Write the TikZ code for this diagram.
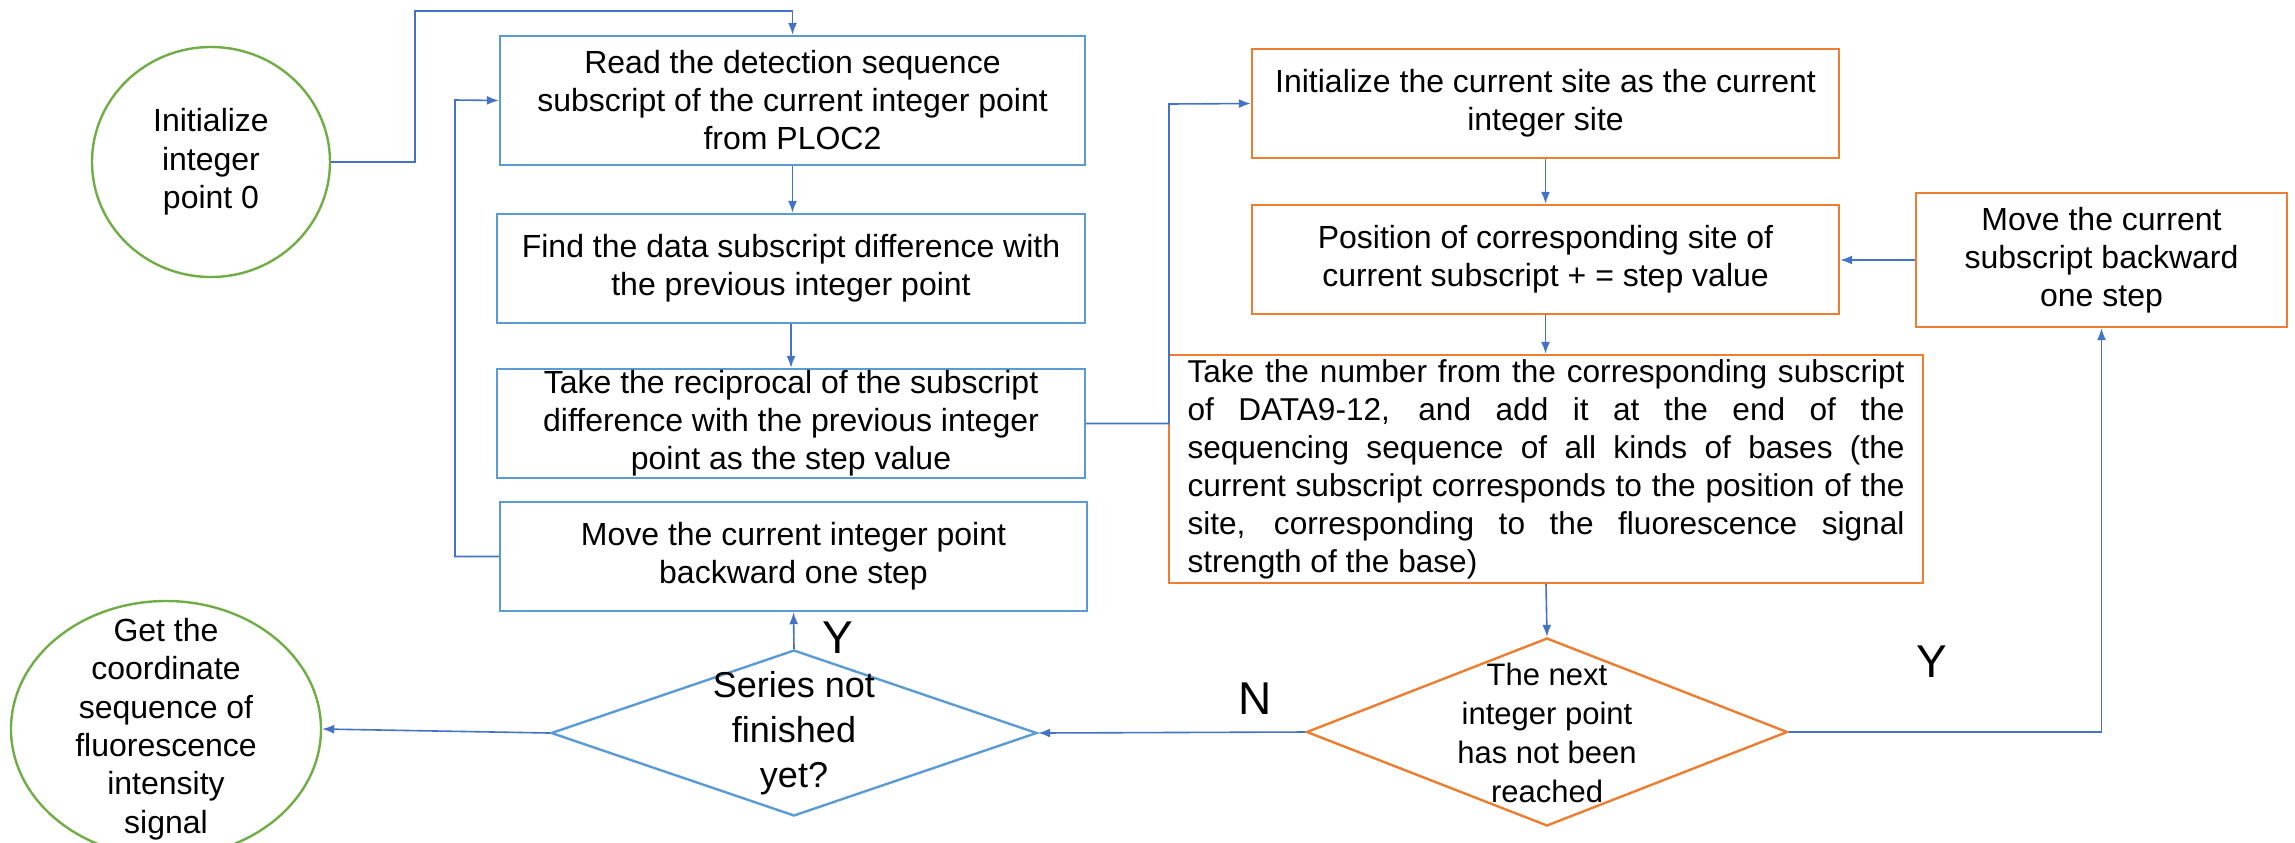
\documentclass[tikz,border=0pt]{standalone}
\usepackage{fontspec}
\setmainfont{Liberation Sans}
\usetikzlibrary{shapes.geometric,arrows.meta}
\definecolor{boxblue}{HTML}{5B9BD5}
\definecolor{lineblue}{HTML}{4472C4}
\definecolor{boxorange}{HTML}{ED7D31}
\definecolor{ellgreen}{HTML}{70AD47}
\newcommand{\jline}[1]{\makebox[358.5pt][s]{#1}}

\begin{document}
\begin{tikzpicture}[x=0.5pt,y=-0.5pt,
  box/.style={draw,line width=1.2pt,inner sep=0pt,align=center,font=\fontsize{16}{19}\selectfont},
  bbox/.style={box,draw=boxblue},
  obox/.style={box,draw=boxorange},
  oval/.style={ellipse,draw=ellgreen,line width=1.2pt,inner sep=0pt,align=center,font=\fontsize{16}{19.2}\selectfont},
  dia/.style={diamond,line width=1.2pt,inner sep=0pt},
  txt/.style={align=center,inner sep=0pt,font=\fontsize{16}{19.2}\selectfont},
  flow/.style={draw=lineblue,line width=0.8pt,-{Latex[length=6pt,width=4.5pt]}},
  yn/.style={inner sep=0pt,font=\fontsize{23}{23}\selectfont}]
\useasboundingbox (0,0) rectangle (2295,842);

% left column
\node[oval,minimum width=119pt,minimum height=115pt] (init) at (211,162) {Initialize\\integer\\point 0};
\node[bbox,minimum width=292.5pt,minimum height=64.5pt] (read) at (792.5,100.5)
  {Read the detection sequence\\subscript of the current integer point\\from PLOC2};
\node[bbox,minimum width=294pt,minimum height=54.5pt] (find) at (791,268.5)
  {Find the data subscript difference with\\the previous integer point};
\node[bbox,minimum width=294pt,minimum height=54.5pt] (recip) at (791,423.5)
  {Take the reciprocal of the subscript\\difference with the previous integer\\point as the step value};
\node[bbox,minimum width=293.5pt,minimum height=54.5pt] (move) at (793.5,556.5)
  {Move the current integer point\\backward one step};
\node[dia,draw=boxblue,minimum width=243pt,minimum height=83pt] (series) at (794,733) {};
\node[txt,font=\fontsize{18}{22.5}\selectfont] (seriest) at (794,733) {Series not\\finished\\yet?};
\node[oval,minimum width=155pt,minimum height=128pt] (fin) at (166,729) {};
\node[txt] (fint) at (166,729) {Get the\\coordinate\\sequence of\\fluorescence\\intensity\\signal};

% right column
\node[obox,minimum width=293.5pt,minimum height=54.5pt] (site) at (1545.5,103.5)
  {Initialize the current site as the current\\integer site};
\node[obox,minimum width=293.5pt,minimum height=54.5pt] (pos) at (1545.5,259.5)
  {Position of corresponding site of\\current subscript + = step value};
\node[obox,minimum width=185.5pt,minimum height=67pt] (back) at (2101.5,260)
  {Move the current\\subscript backward\\one step};
\node[obox,minimum width=377pt,minimum height=114pt,text width=358.5pt,align=justify,
  font=\fontsize{15.8}{19}\selectfont] (take) at (1546,469)
  {\jline{Take the number from the corresponding subscript}\\
   \jline{of DATA9-12, and add it at the end of the}\\
   \jline{sequencing sequence of all kinds of bases (the}\\
   \jline{current subscript corresponds to the position of the}\\
   \jline{site, corresponding to the fluorescence signal}\\
   strength of the base)};
\node[dia,draw=boxorange,minimum width=240.5pt,minimum height=94pt] (next) at (1547,732) {};
\node[txt,font=\fontsize{15.5}{19.5}\selectfont] (nextt) at (1547,733) {The next\\integer point\\has not been\\reached};

% labels
\node[yn] (ylow) at (838,638) {Y};
\node[yn] (nlab) at (1255,699) {N};
\node[yn] (yright) at (1932,662) {Y};

% connectors
\coordinate (c1) at (415,11);
\coordinate (c2) at (1169,104);
\coordinate (c3) at (455,100);
\draw[flow] (init.east) -| (c1) -| (read.north);
\draw[flow] (read.south) -- (read.south |- find.north);
\draw[flow] (find.south) -- (find.south |- recip.north);
\draw[flow] (recip.east) -| (c2) -- (site.west);
\draw[flow] (site.south) -- (pos.north);
\draw[flow] (pos.south) -- (pos.south |- take.north);
\draw[flow] (take.south) -- (next.north);
\draw[flow] (next.east) -| (back.south);
\draw[flow] (back.west) -- (back.west -| pos.east);
\draw[flow] (next.west) -- (series.east);
\draw[flow] (series.north) -- (move.south);
\draw[flow] (move.west) -| (c3) -- (read.west);
\draw[flow] (series.west) -- (fin.east);
\end{tikzpicture}
\end{document}
